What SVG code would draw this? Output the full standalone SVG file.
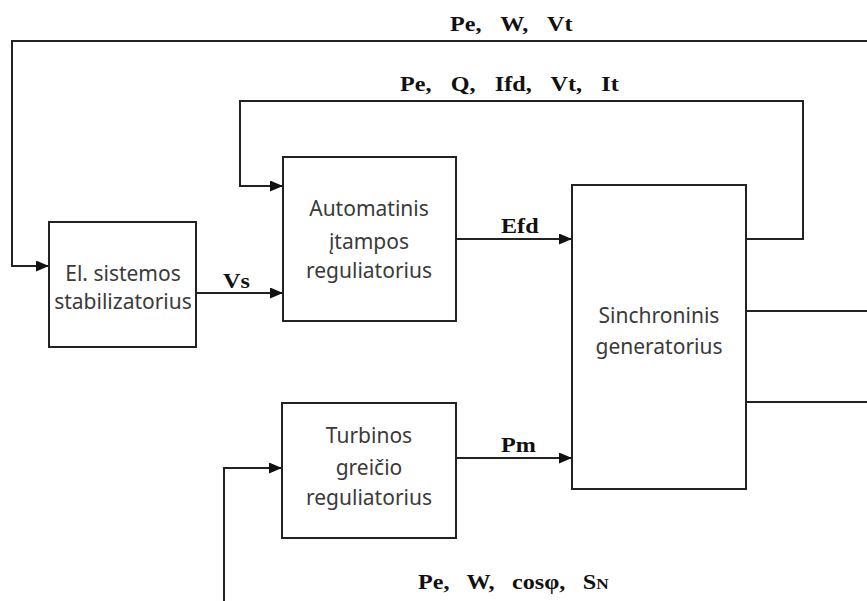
<svg xmlns="http://www.w3.org/2000/svg" width="867" height="601" viewBox="0 0 867 601">
  <style>
    .box { fill: #fff; stroke: #222; stroke-width: 2; }
    .wire { fill: none; stroke: #222; stroke-width: 2; }
    .name { font-family: "Noto Sans", "Open Sans", sans-serif; font-size: 21px; fill: #3a3a3a; text-anchor: middle; }
    .sig { font-family: "Liberation Serif", "Noto Sans CJK SC", serif; font-size: 21px; font-weight: bold; fill: #111; }
    .list { word-spacing: 11.5px; }
  </style>
  <defs>
    <marker id="arrow" markerWidth="13" markerHeight="11" refX="13" refY="5.5" orient="auto" markerUnits="userSpaceOnUse">
      <path d="M0,0 L13,5.5 L0,11 Z" fill="#111"/>
    </marker>
  </defs>
  <rect width="867" height="601" fill="#fff"/>

  <g id="connectors">
    <!-- outer feedback to stabilizer -->
    <polyline class="wire" points="867,41 12,41 12,266 49,266" marker-end="url(#arrow)"/>
    <!-- inner feedback to AVR -->
    <polyline class="wire" points="746,239 803,239 803,101 240,101 240,186 283,186" marker-end="url(#arrow)"/>
    <!-- Vs -->
    <line class="wire" x1="197" y1="293" x2="283" y2="293" marker-end="url(#arrow)"/>
    <!-- Efd -->
    <line class="wire" x1="456" y1="239" x2="572" y2="239" marker-end="url(#arrow)"/>
    <!-- Pm -->
    <line class="wire" x1="456" y1="458" x2="572" y2="458" marker-end="url(#arrow)"/>
    <!-- governor input -->
    <polyline class="wire" points="224,601 224,468 282,468" marker-end="url(#arrow)"/>
    <!-- generator outputs -->
    <line class="wire" x1="746" y1="311" x2="867" y2="311"/>
    <line class="wire" x1="746" y1="402" x2="867" y2="402"/>

    <!-- signal labels, slightly widened serif -->
    <text class="sig list" transform="translate(450,31) scale(1.15,1)">Pe, W, Vt</text>
    <text class="sig list" transform="translate(400,91) scale(1.15,1)">Pe, Q, Ifd, Vt, It</text>
    <text class="sig" transform="translate(223,288) scale(1.15,1)">Vs</text>
    <text class="sig" transform="translate(501,233) scale(1.15,1)">Efd</text>
    <text class="sig" transform="translate(501,452) scale(1.15,1)">Pm</text>
    <text class="sig list" style="word-spacing:10px" transform="translate(418,589) scale(1.15,1)">Pe, W, cosφ, S<tspan font-size="15">N</tspan></text>
  </g>

  <g id="stabilizer">
    <rect class="box" x="49" y="222" width="147" height="125"/>
    <text class="name" x="123" y="281">El. sistemos</text>
    <text class="name" x="123" y="309">stabilizatorius</text>
  </g>

  <g id="avr">
    <rect class="box" x="283" y="157" width="173" height="164"/>
    <text class="name" x="369" y="216">Automatinis</text>
    <text class="name" x="369" y="249">įtampos</text>
    <text class="name" x="369" y="278">reguliatorius</text>
  </g>

  <g id="governor">
    <rect class="box" x="282" y="403" width="174" height="135"/>
    <text class="name" x="369" y="443">Turbinos</text>
    <text class="name" x="369" y="475">greičio</text>
    <text class="name" x="369" y="505">reguliatorius</text>
  </g>

  <g id="generator">
    <rect class="box" x="572" y="185" width="174" height="304"/>
    <text class="name" x="659" y="323">Sinchroninis</text>
    <text class="name" x="659" y="354">generatorius</text>
  </g>
</svg>
